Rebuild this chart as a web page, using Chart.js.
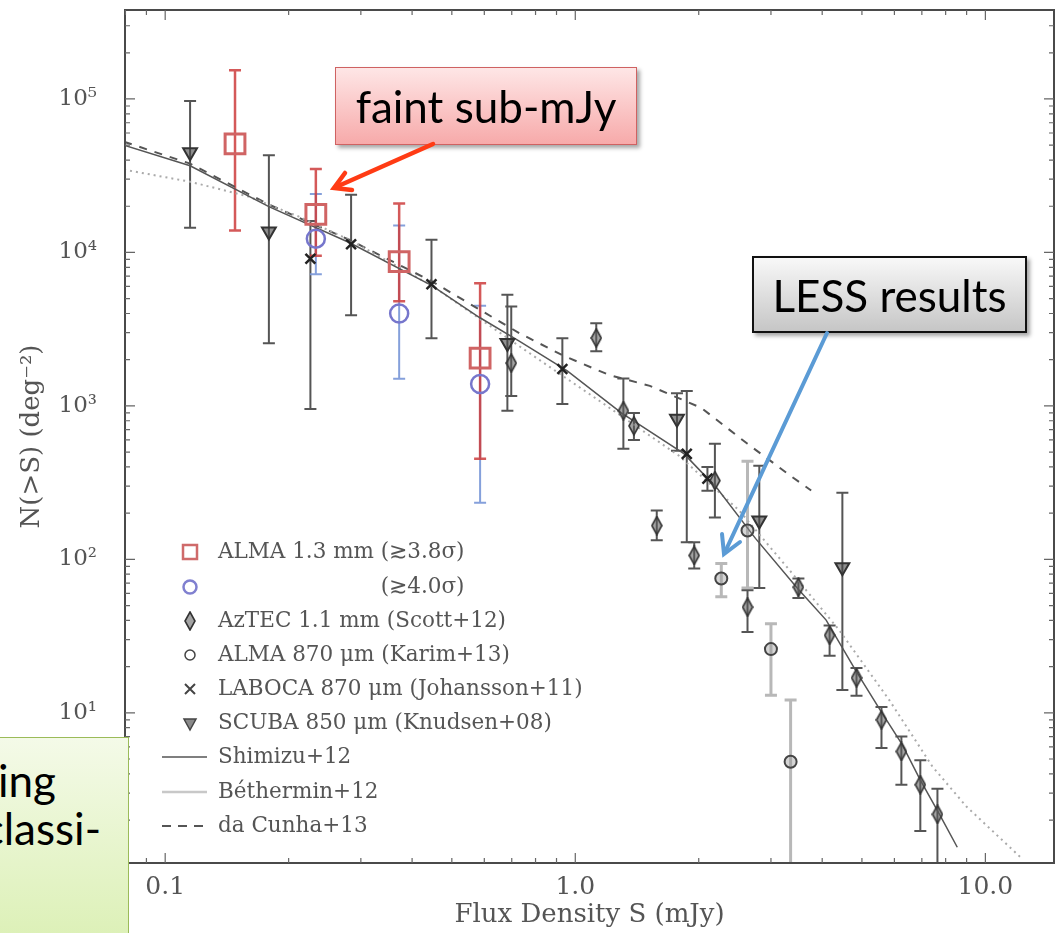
<!DOCTYPE html>
<html>
<head>
<meta charset="utf-8">
<script src="https://cdn.jsdelivr.net/npm/chart.js@4.4.1/dist/chart.umd.min.js"></script>
<style>
  body { margin: 0; background: #fff; overflow: hidden; }
  #wrap { position: relative; width: 1057px; height: 933px; overflow: hidden; }
  #chart { position: absolute; left: 0; top: 0; }
  .note { position: absolute; box-sizing: border-box; font-family: Lato, "Open Sans", sans-serif; font-size: 44px; color: #000;
          display: flex; align-items: center; justify-content: center; box-shadow: 3px 3px 4px rgba(0,0,0,0.35); }
  #faint { left: 335px; top: 67px; width: 302px; height: 78px; border: 1.5px solid #cf6262;
           background: linear-gradient(#fee6e6, #f7aaaa); }
  #less { left: 752px; top: 256px; width: 275px; height: 77px; border: 2px solid #111;
          background: linear-gradient(#f8f8f8, #c6c6c6); }
  #green { left: -30px; top: 737px; width: 159px; height: 230px; border: 1.5px solid #9bbb59; display: block;
           background: linear-gradient(#f4fae8, #d9efb0); box-shadow: none; }
  #green div { position: absolute; right: 27px; white-space: nowrap; line-height: 1; }
  #arrows { position: absolute; left: 0; top: 0; pointer-events: none; }
</style>
</head>
<body>
<div id="wrap">
  <canvas id="chart" width="1057" height="933"></canvas>
  <div class="note" id="faint">faint sub-mJy</div>
  <div class="note" id="less">LESS results</div>
  <div class="note" id="green"><div style="top:20px; right:72px;">ing</div><div style="top:68px;">classi-</div></div>
  <svg id="arrows" width="1057" height="933">
    <g stroke="#ff3b14" stroke-width="4.5" fill="none" stroke-linecap="round">
      <line x1="433" y1="144" x2="336" y2="187"/>
      <polyline points="345,173 334,188 352,190"/>
    </g>
    <g stroke="#5b9bd5" stroke-width="4" fill="none" stroke-linecap="round">
      <line x1="827" y1="333" x2="725" y2="552"/>
      <polyline points="722,534 724,554 740,542"/>
    </g>
  </svg>
</div>
<script>
// valores: S em mJy, N(>S) em deg^-2
const xTicks = [0.1, 1, 10];
const xTickLabels = ['0.1', '1.0', '10.0'];
const yTicks = [1e1, 1e2, 1e3, 1e4, 1e5];
const yTickLabels = ['10¹', '10²', '10³', '10⁴', '10⁵'];

// ALMA 1.3 mm (>=3.8 sigma) - quadrados vermelhos
const almaRedS = [0.148, 0.233, 0.372, 0.586];
const almaRedN = [5.1e4, 1.77e4, 8.7e3, 2.05e3];
const almaRedLo = [1.39e4, 9.5e3, 4.8e3, 453];
const almaRedHi = [1.54e5, 3.5e4, 2.08e4, 6.3e3];

// ALMA 1.3 mm (>=4.0 sigma) - círculos azuis
const almaBlueS = [0.233, 0.372, 0.586];
const almaBlueN = [1.23e4, 4.0e3, 1.39e3];
const almaBlueLo = [7.2e3, 1.5e3, 234];
const almaBlueHi = [2.4e4, 1.5e4, 4.5e3];

// AzTEC 1.1 mm (Scott+12)
const aztecS = [0.698, 1.125, 1.31, 1.39, 1.58, 1.95, 2.19, 2.63, 3.5, 4.17, 4.85, 5.58, 6.24, 6.94, 7.64];
const aztecN = [1.9e3, 2.77e3, 930, 741, 166, 106, 326, 48.8, 65.8, 32, 16.9, 9.0, 5.6, 3.4, 2.18];
const aztecLo = [1.16e3, 2.27e3, 525, 600, 133, 87, 187, 33.6, 56, 23.5, 12.9, 5.9, 3.4, 1.7, 0.5];
const aztecHi = [4.45e3, 3.46e3, 1.51e3, 900, 208, 129, 566, 63, 75, 37, 19.6, 10.9, 7.0, 4.9, 3.2];

// ALMA 870 um (Karim+13)
const karimS = [2.27, 2.63, 3.0, 3.35];
const karimN = [75, 154, 26, 4.8];
const karimLo = [57, 65, 13, 0.5];
const karimHi = [94, 436, 38, 12.1];

// LABOCA 870 um (Johansson+11)
const labocaS = [0.226, 0.284, 0.446, 0.93, 1.87, 2.1];
const labocaN = [9.1e3, 1.13e4, 6.2e3, 1.74e3, 487, 336];
const labocaLo = [955, 3.9e3, 2.76e3, 1.03e3, 129, 280];
const labocaHi = [1.6e4, 2.38e4, 1.21e4, 2.76e3, 1.25e3, 400];

// SCUBA 850 um (Knudsen+08)
const scubaS = [0.115, 0.179, 0.683, 1.77, 2.81, 4.48];
const scubaN = [4.5e4, 1.37e4, 2.57e3, 824, 179, 88.7];
const scubaLo = [1.45e4, 2.56e3, 930, 511, 65, 14.1];
const scubaHi = [9.7e4, 4.3e4, 5.3e3, 1.21e3, 408, 272];

// modelos
const shimizuS = [0.0794, 0.115, 0.179, 0.281, 0.446, 0.583, 0.73, 0.956, 1.295, 1.84, 2.22, 2.75, 3.48, 4.09, 4.85, 5.58, 6.27, 6.93, 7.73, 8.54];
const shimizuN = [5.0e4, 3.67e4, 1.99e4, 1.16e4, 6.1e3, 3.78e3, 2.64e3, 1.69e3, 901, 488, 289, 137, 64.8, 40.2, 18.5, 10.1, 6.2, 3.67, 2.18, 1.33];
const bethS = [0.0794, 0.115, 0.16, 0.212, 0.281, 0.446, 0.73, 1.144, 1.79, 2.51, 3.33, 4.40, 5.83, 7.43, 8.99, 12.2];
const bethN = [3.46e4, 2.89e4, 2.31e4, 1.71e4, 1.21e4, 6.1e3, 2.45e3, 1.08e3, 473, 208, 85, 34.6, 12.1, 4.46, 2.45, 1.14];
const daCunhaS = [0.0794, 0.115, 0.179, 0.281, 0.446, 0.73, 0.94, 1.21, 1.52, 2.03, 2.63, 3.40, 3.76];
const daCunhaN = [5.26e4, 3.79e4, 2.05e4, 1.21e4, 6.5e3, 2.98e3, 2.11e3, 1.59e3, 1.35e3, 970, 566, 340, 281];

const serif = '"DejaVu Serif", serif';
const pts = (xs, ys) => xs.map((x, i) => ({ x: x, y: ys[i] }));

// losango fino usado pelo AzTEC
function makeDiamond() {
    const c = document.createElement('canvas');
    c.width = 12; c.height = 20;
    const g = c.getContext('2d');
    g.beginPath();
    g.moveTo(6, 1); g.lineTo(11, 10); g.lineTo(6, 19); g.lineTo(1, 10); g.closePath();
    g.fillStyle = 'rgba(90,90,90,0.55)';
    g.fill();
    g.strokeStyle = '#333';
    g.lineWidth = 1.6;
    g.stroke();
    return c;
}
const diamond = makeDiamond();

// barras de erro desenhadas com as escalas do próprio Chart.js
const errorBars = {
    id: 'errorBars',
    beforeDatasetsDraw(chart) {
        const { ctx, chartArea: a, scales: { x, y } } = chart;
        ctx.save();
        ctx.beginPath();
        ctx.rect(a.left, a.top, a.right - a.left, a.bottom - a.top);
        ctx.clip();
        // desenha do último para o primeiro, como os pontos
        for (let d = chart.data.datasets.length - 1; d >= 0; d--) {
            const ds = chart.data.datasets[d];
            if (!ds.errLo) continue;
            ctx.strokeStyle = ds.errColor;
            ctx.lineWidth = ds.errWidth;
            ds.data.forEach((p, i) => {
                const px = x.getPixelForValue(p.x);
                const lo = y.getPixelForValue(ds.errLo[i]);
                const hi = y.getPixelForValue(ds.errHi[i]);
                ctx.beginPath();
                ctx.moveTo(px, lo); ctx.lineTo(px, hi);
                ctx.moveTo(px - 6, lo); ctx.lineTo(px + 6, lo);
                ctx.moveTo(px - 6, hi); ctx.lineTo(px + 6, hi);
                ctx.stroke();
            });
        }
        ctx.restore();
    }
};

// moldura e marcas de escala para dentro
const frame = {
    id: 'frame',
    afterDraw(chart) {
        const { ctx, chartArea: a, scales: { x, y } } = chart;
        ctx.save();
        ctx.strokeStyle = '#4a4a4a';
        ctx.lineWidth = 2;
        ctx.strokeRect(a.left, a.top, a.right - a.left, a.bottom - a.top);
        ctx.lineWidth = 1.2;
        ctx.strokeStyle = '#666';
        const tick = (px, len, vertical) => {
            ctx.beginPath();
            if (vertical) {
                ctx.moveTo(px, a.bottom); ctx.lineTo(px, a.bottom - len);
                ctx.moveTo(px, a.top); ctx.lineTo(px, a.top + len);
            } else {
                ctx.moveTo(a.left, px); ctx.lineTo(a.left + len, px);
                ctx.moveTo(a.right, px); ctx.lineTo(a.right - len, px);
            }
            ctx.stroke();
        };
        for (let e = -2; e <= 1; e++) {
            for (let m = 1; m <= 9; m++) {
                const v = m * Math.pow(10, e);
                if (v < x.min || v > x.max) continue;
                tick(x.getPixelForValue(v), m === 1 ? 10 : 5, true);
            }
        }
        for (let e = 0; e <= 5; e++) {
            for (let m = 1; m <= 9; m++) {
                const v = m * Math.pow(10, e);
                if (v < y.min || v > y.max) continue;
                tick(y.getPixelForValue(v), m === 1 ? 10 : 5, false);
            }
        }
        ctx.restore();
    }
};

// legenda dentro do gráfico
const plotLegend = {
    id: 'plotLegend',
    afterDraw(chart) {
        const ctx = chart.ctx;
        const sx = 190, tx = 218;
        const rows = [552, 587, 621, 655, 689, 723, 757, 792, 826];
        ctx.save();
        ctx.font = '21.5px ' + serif;
        ctx.fillStyle = '#555';
        ctx.textBaseline = 'middle';
        const first = 'ALMA 1.3 mm (≳3.8σ)';
        const labels = [first, '', 'AzTEC 1.1 mm (Scott+12)', 'ALMA 870 μm (Karim+13)',
            'LABOCA 870 μm (Johansson+11)', 'SCUBA 850 μm (Knudsen+08)', 'Shimizu+12', 'Béthermin+12', 'da Cunha+13'];
        labels.forEach((t, i) => { if (t) ctx.fillText(t, tx, rows[i]); });
        ctx.textAlign = 'right';
        ctx.fillText('(≳4.0σ)', tx + ctx.measureText(first).width, rows[1]);

        // símbolos
        ctx.lineWidth = 2.5;
        ctx.strokeStyle = '#cf6a6a';
        ctx.strokeRect(sx - 7, rows[0] - 7, 14, 14);
        ctx.strokeStyle = '#8080d0';
        ctx.beginPath(); ctx.arc(sx, rows[1], 6.5, 0, Math.PI * 2); ctx.stroke();
        ctx.drawImage(diamond, sx - 6, rows[2] - 10);
        ctx.lineWidth = 1.5;
        ctx.strokeStyle = '#444';
        ctx.beginPath(); ctx.arc(sx, rows[3], 5, 0, Math.PI * 2); ctx.stroke();
        ctx.lineWidth = 2;
        ctx.beginPath();
        ctx.moveTo(sx - 5, rows[4] - 5); ctx.lineTo(sx + 5, rows[4] + 5);
        ctx.moveTo(sx + 5, rows[4] - 5); ctx.lineTo(sx - 5, rows[4] + 5);
        ctx.stroke();
        ctx.lineWidth = 1.5;
        ctx.fillStyle = 'rgba(60,60,60,0.6)';
        ctx.beginPath();
        ctx.moveTo(sx - 6, rows[5] - 4); ctx.lineTo(sx + 6, rows[5] - 4); ctx.lineTo(sx, rows[5] + 7); ctx.closePath();
        ctx.fill(); ctx.stroke();
        const line = (row, color, width, dash) => {
            ctx.strokeStyle = color; ctx.lineWidth = width; ctx.setLineDash(dash);
            ctx.beginPath(); ctx.moveTo(162, row); ctx.lineTo(207, row); ctx.stroke();
        };
        line(rows[6], '#555', 1.5, []);
        line(rows[7], '#c8c8c8', 2.5, []);
        line(rows[8], '#555', 2, [9, 7]);
        ctx.restore();
    }
};

const ctx = document.getElementById('chart').getContext('2d');
new Chart(ctx, {
    type: 'scatter',
    data: {
        datasets: [
            {
                label: 'ALMA 1.3 mm (≳3.8σ)', data: pts(almaRedS, almaRedN),
                errLo: almaRedLo, errHi: almaRedHi, errColor: 'rgba(205,60,60,0.85)', errWidth: 2.5,
                pointStyle: 'rect', pointRadius: 14, borderColor: '#d06464', borderWidth: 3,
                backgroundColor: 'rgba(255,255,255,0)'
            },
            {
                label: '(≳4.0σ)', data: pts(almaBlueS, almaBlueN),
                errLo: almaBlueLo, errHi: almaBlueHi, errColor: 'rgba(120,150,215,0.9)', errWidth: 2,
                pointStyle: 'circle', pointRadius: 9, borderColor: '#7676cc', borderWidth: 2.5,
                backgroundColor: 'rgba(255,255,255,0)'
            },
            {
                label: 'AzTEC 1.1 mm (Scott+12)', data: pts(aztecS, aztecN),
                errLo: aztecLo, errHi: aztecHi, errColor: '#555', errWidth: 2,
                pointStyle: diamond
            },
            {
                label: 'ALMA 870 μm (Karim+13)', data: pts(karimS, karimN),
                errLo: karimLo, errHi: karimHi, errColor: '#b8b8b8', errWidth: 3,
                pointStyle: 'circle', pointRadius: 6, borderColor: '#444', borderWidth: 2,
                backgroundColor: 'rgba(150,150,150,0.4)'
            },
            {
                label: 'LABOCA 870 μm (Johansson+11)', data: pts(labocaS, labocaN),
                errLo: labocaLo, errHi: labocaHi, errColor: '#555', errWidth: 2,
                pointStyle: 'crossRot', pointRadius: 7, borderColor: '#222', borderWidth: 2.5
            },
            {
                label: 'SCUBA 850 μm (Knudsen+08)', data: pts(scubaS, scubaN),
                errLo: scubaLo, errHi: scubaHi, errColor: '#555', errWidth: 2,
                pointStyle: 'triangle', rotation: 180, pointRadius: 8, borderColor: '#333', borderWidth: 2,
                backgroundColor: 'rgba(70,70,70,0.6)'
            },
            {
                label: 'Shimizu+12', data: pts(shimizuS, shimizuN), showLine: true,
                pointRadius: 0, borderColor: '#555', borderWidth: 1.5
            },
            {
                label: 'Béthermin+12', data: pts(bethS, bethN), showLine: true,
                pointRadius: 0, borderColor: '#aaa', borderWidth: 2, borderDash: [2, 4]
            },
            {
                label: 'da Cunha+13', data: pts(daCunhaS, daCunhaN), showLine: true,
                pointRadius: 0, borderColor: '#555', borderWidth: 2, borderDash: [8, 8]
            }
        ]
    },
    options: {
        responsive: false,
        animation: false,
        layout: { autoPadding: false, padding: { top: 10, right: 3, bottom: 0, left: 0 } },
        plugins: { legend: { display: false }, tooltip: { enabled: false } },
        scales: {
            x: {
                type: 'logarithmic', min: 0.0798, max: 14.7,
                afterBuildTicks: (s) => { s.ticks = xTicks.map(v => ({ value: v })); },
                afterFit: (s) => { s.height = 70; s.paddingLeft = 0; s.paddingRight = 0; },
                grid: { display: false, drawTicks: false },
                border: { display: false },
                ticks: {
                    padding: 9, color: '#555', font: { family: serif, size: 25 }, maxRotation: 0,
                    callback: (v) => { const i = xTicks.indexOf(v); return i >= 0 ? xTickLabels[i] : ''; }
                },
                title: { display: true, text: 'Flux Density S (mJy)', color: '#555',
                    font: { family: serif, size: 26 }, padding: { top: 0, bottom: 2 } }
            },
            y: {
                type: 'logarithmic', min: 1.05, max: 3.8e5,
                afterBuildTicks: (s) => { s.ticks = yTicks.map(v => ({ value: v })); },
                afterFit: (s) => { s.width = 125; s.paddingTop = 0; s.paddingBottom = 0; },
                grid: { display: false, drawTicks: false },
                border: { display: false },
                ticks: {
                    padding: 28, color: '#555', font: { family: serif, size: 23 },
                    callback: (v) => { const i = yTicks.indexOf(v); return i >= 0 ? yTickLabels[i] : ''; }
                },
                title: { display: true, text: 'N(>S) (deg⁻²)', color: '#555',
                    font: { family: serif, size: 26 }, padding: { top: 17, bottom: 0 } }
            }
        }
    },
    plugins: [errorBars, frame, plotLegend]
});
</script>
</body>
</html>
